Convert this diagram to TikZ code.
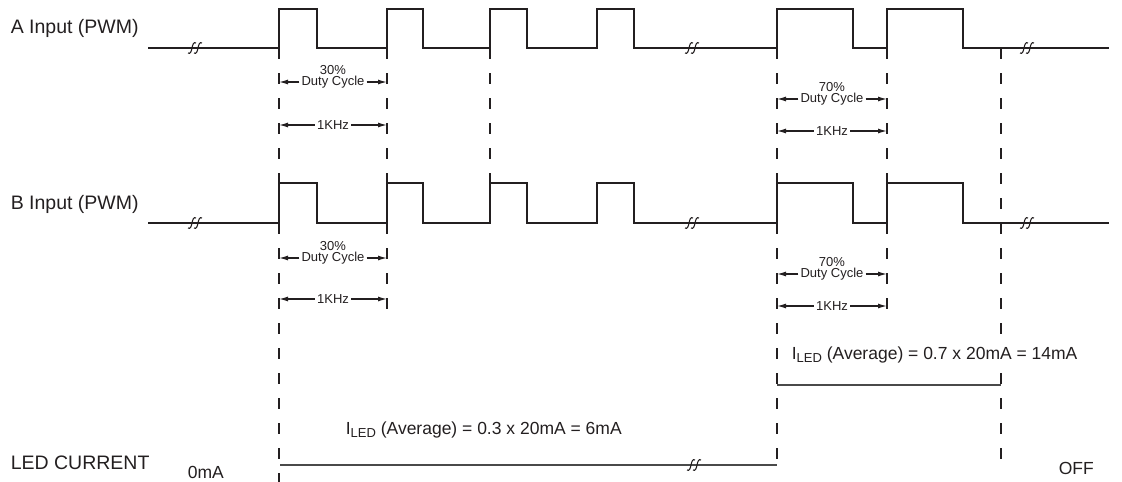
\documentclass[tikz,border=0pt]{standalone}
\usepackage{fontspec}
\setmainfont{Liberation Sans}
\usetikzlibrary{arrows.meta, positioning}
\definecolor{cink}{HTML}{231F20}
\definecolor{cled}{HTML}{4A4A4A}
\tikzset{
  every picture/.style={line width=1.6pt},
  wave/.style={draw=cink, line width=1.8pt, line join=miter},
  guide/.style={draw=cink, line width=1.6pt, dash pattern=on 11pt off 14pt},
  led/.style={draw=cled, line width=1.5pt},
  dimarrow/.style={-{Latex[length=9pt, width=5pt]}, draw=cink, line width=1.2pt},
  label/.style={font=\fontsize{19.5}{22}\selectfont, text=cink, anchor=west, inner sep=0pt},
  eq/.style={font=\fontsize{17.5}{20}\selectfont, text=cink, anchor=west, inner sep=0pt},
  small/.style={font=\fontsize{13}{14}\selectfont, text=cink, inner sep=1.5pt},
  brk/.pic={
    \foreach \d in {-3,3}
      \draw[draw=cink, line width=1.1pt] (\d-4,5) .. controls (\d+1,8) and (\d-1,-8) .. (\d+4,-5);},
}
\newcommand{\sub}[1]{\raisebox{-0.35ex}{\fontsize{13}{13}\selectfont #1}}

\begin{document}
\begin{tikzpicture}[x=1pt, y=-1pt]
  \useasboundingbox (0,0) rectangle (1122,482);
  % edges where the periods start
  \foreach \n/\x in {t1/279,t2/387,t3/490,t4/777,t5/887,t6/1001} \coordinate (\n) at (\x,0);
  % \pwm{base}{top}
  \newcommand{\pwm}[2]{
    \draw[wave] (148,#1) \foreach \r/\f in {279/317,387/423,490/527,597/634,777/853,887/963} { -- (\r,#1) -- (\r,#2) -- (\f,#2) -- (\f,#1)} -- (1109,#1);
    \foreach \b in {195,692,1027} \pic at (\b,#1) {brk};}
  \pwm{48}{9}
  \pwm{223}{183}
  % dashed guides
  \foreach \x/\e in {279/482,387/309,490/184,777/465,887/309,1001/472} \draw[guide] (\x,48) -- (\x,\e);
  % \period{name}{from}{to}{x}{y duty}{percent}{y khz}
  \newcommand{\period}[7]{
    \node[small] (#1dc) at (#4,#5) {Duty Cycle};
    \node[small, inner sep=0pt, above=-1.3pt of #1dc] (#1pc) {#6};
    \draw[dimarrow] (#1dc.west) -- (#1dc.west -| #2);
    \draw[dimarrow] (#1dc.east) -- (#1dc.east -| #3);
    \node[small] (#1k) at (#4,#7) {1KHz};
    \draw[dimarrow] (#1k.west) -- (#1k.west -| #2);
    \draw[dimarrow] (#1k.east) -- (#1k.east -| #3);}
  \period{athirty}{t1}{t2}{333}{82}{30\%}{125}
  \period{bthirty}{t1}{t2}{333}{258}{30\%}{299}
  \period{aseventy}{t4}{t5}{832}{99}{70\%}{131}
  \period{bseventy}{t4}{t5}{832}{274}{70\%}{306}
  % led current
  \draw[led] (280,465) -- (777,465);
  \pic at (694,465) {brk};
  \draw[led] (777,385) -- (1001,385);
  \node[label] (alab) at (10,28) {A Input (PWM)};
  \node[label] (blab) at (10,204) {B Input (PWM)};
  \node[label] (ledlab) at (10,463) {LED CURRENT};
  \node[eq] (zero) at (187,472) {0mA};
  \node[eq] (off) at (1058,468) {OFF};
  \node[eq] (avgthirty) at (345,430) {I\sub{LED} (Average) = 0.3 x 20mA = 6mA};
  \node[eq, fill=white, inner sep=2pt] (avgseventy) at (789,355) {I\sub{LED} (Average) = 0.7 x 20mA = 14mA};
\end{tikzpicture}
\end{document}
